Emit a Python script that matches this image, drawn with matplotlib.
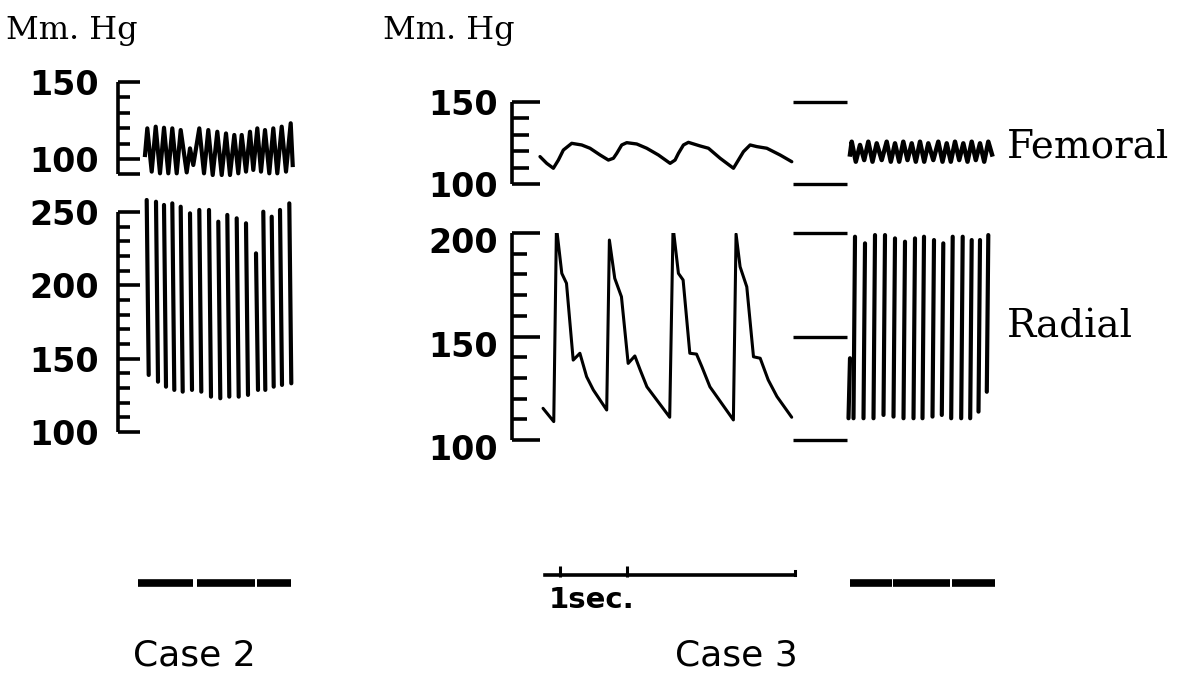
import matplotlib
matplotlib.use('Agg')
from matplotlib import pyplot as plt
from matplotlib.transforms import ScaledTranslation

W, H = 1188, 678

# Case 2 -- slow drum, time in s
fem2_t = [0.0, 0.23, 0.67, 1.07, 1.5, 1.9, 2.33, 2.73, 3.17, 3.57, 4.17, 4.5, 4.83,
          5.43, 5.9, 6.33, 6.77, 7.23, 7.67, 8.1, 8.5, 8.93, 9.33, 9.67, 10.1, 10.5,
          10.83, 11.23, 11.6, 12.0, 12.43, 12.83, 13.23, 13.67, 14.1, 14.57, 14.77]
fem2_p = [102.6, 119.9, 91.8, 121.0, 90.7, 120.3, 90.7, 119.9, 90.7, 118.8, 91.3, 106.9, 96.1,
          119.9, 90.7, 118.8, 89.6, 117.7, 89.6, 116.6, 89.6, 115.6, 90.7, 115.6, 91.8, 117.7,
          92.9, 119.9, 91.8, 118.8, 90.7, 119.9, 90.7, 121.0, 91.8, 123.2, 96.1]
rad2_t = [0.17, 1.1, 1.9, 2.73, 3.57, 4.5, 5.43, 6.4, 7.33, 8.23, 9.17, 10.1, 11.1,
          11.83, 12.67, 13.5, 14.43]
rad2_top = [258.2, 257.0, 254.8, 255.9, 253.6, 249.1, 251.4, 251.4, 243.4, 248.0, 245.7,
            242.3, 221.8, 250.2, 246.8, 251.4, 255.9]
rad2_bot = [138.9, 134.3, 130.9, 128.7, 127.5, 128.7, 127.5, 124.1, 123.0, 124.1, 124.1,
            125.3, 128.7, 128.7, 130.9, 132.1, 133.2]
marks2 = [(-0.7, 4.8), (5.2, 11.0), (11.2, 14.6)]

# Case 3 -- fast drum, time in s
fem3_t = [-0.045, 0.055, 0.154, 0.229, 0.303, 0.428, 0.577, 0.701, 0.851, 0.975, 1.05,
          1.1, 1.174, 1.249, 1.398, 1.547, 1.721, 1.896, 1.97, 2.02, 2.095, 2.169,
          2.343, 2.468, 2.642, 2.841, 2.915, 2.99, 3.09, 3.19, 3.339, 3.537, 3.711]
fem3_p = [116.7, 112.6, 109.6, 114.6, 120.7, 124.8, 123.8, 121.8, 117.7, 114.6, 115.7,
          118.7, 123.8, 125.2, 124.4, 121.8, 117.7, 112.6, 114.6, 118.7, 123.8, 125.4,
          123.2, 121.8, 115.7, 109.6, 114.6, 119.7, 123.8, 122.8, 121.8, 117.7, 113.6]
rad3_t = [0.0, 0.16, 0.2, 0.28, 0.35, 0.45, 0.55, 0.65, 0.75, 0.95,
          0.99, 1.07, 1.17, 1.27, 1.37, 1.45, 1.55, 1.89,
          1.94, 2.02, 2.09, 2.19, 2.29, 2.37, 2.49, 2.84,
          2.88, 2.94, 3.04, 3.14, 3.24, 3.36, 3.49, 3.71]
rad3_p = [115.3, 108.9, 203.0, 180.5, 175.7, 138.6, 141.9, 130.6, 124.2, 114.5,
          196.6, 178.1, 169.2, 137.0, 140.6, 133.8, 125.7, 111.0,
          203.0, 180.5, 177.3, 141.9, 141.5, 135.4, 125.7, 109.7,
          199.5, 183.7, 174.0, 140.2, 139.5, 129.0, 121.0, 111.0]
sec_ticks3 = [0.25, 1.25]
time3_end = 3.76

# Case 3 -- slow drum
fem3s_t = [0.0, 0.17, 0.58, 1.0, 1.42, 1.83, 2.25, 2.67, 3.17, 3.67, 4.08, 4.5, 4.92,
           5.33, 5.75, 6.17, 6.58, 7.0, 7.42, 7.83, 8.33, 8.83, 9.25, 9.67, 10.08,
           10.5, 10.92, 11.33, 11.75, 12.17, 12.58, 13.0, 13.42, 13.83, 14.2]
fem3s_p = [118.0, 125.8, 113.6, 123.8, 114.6, 125.8, 113.6, 124.8, 114.6, 125.8, 113.6,
           124.8, 113.6, 125.8, 114.6, 124.8, 113.6, 125.8, 113.6, 124.8, 114.6, 125.8,
           113.6, 124.8, 113.6, 125.8, 114.6, 124.8, 113.6, 125.8, 114.6, 124.8, 113.6,
           125.8, 118.0]
rad3s_t = [0.0, 0.5, 1.5, 2.5, 3.5, 4.5, 5.5, 6.5, 7.4, 8.4, 9.33, 10.27, 11.27,
           12.17, 13.0, 13.83]
rad3s_top = [139.5, 198.2, 195.0, 199.0, 199.0, 197.4, 195.8, 197.4, 198.2, 196.6,
             195.0, 198.2, 198.2, 196.6, 196.6, 199.0]
rad3s_bot = [110.5, 110.5, 110.5, 110.5, 112.1, 111.3, 110.5, 110.5, 110.5, 111.3,
             112.1, 110.5, 110.5, 110.5, 113.7, 123.3]
marks3 = [(-0.2, 4.2), (4.3, 10.0), (10.2, 14.5)]

cal_fem = [150, 100]
cal_rad = [200, 150, 100]

NUM_FONT = 'DejaVu Sans'
WORD_FONT = 'DejaVu Serif'

fig = plt.figure(figsize=(W / 100, H / 100), dpi=100)
fig.patch.set_facecolor('white')


def px_axes(x0, y0, x1, y1):
    # axes box given in pixels from the top left corner
    ax = fig.add_axes([x0 / W, 1 - y1 / H, (x1 - x0) / W, (y1 - y0) / H])
    ax.patch.set_alpha(0)
    for s in ax.spines.values():
        s.set_visible(False)
    ax.set_xticks([])
    ax.set_yticks([])
    return ax


def scale(ax, lo, hi, labelled, long_len, short_len, pad, shift=0):
    ax.set_ylim(lo, hi)
    ax.spines['left'].set_visible(True)
    ax.spines['left'].set_linewidth(2.6)
    ax.spines['left'].set_capstyle('butt')
    majors = sorted(set([lo, hi] + list(labelled)))
    ax.set_yticks(majors)
    ax.set_yticklabels([str(v) if v in labelled else '' for v in majors],
                       fontsize=24, family=NUM_FONT, fontweight='bold')
    ax.set_yticks([v for v in range(lo, hi, 10) if v not in majors], minor=True)
    ax.tick_params(axis='y', which='major', direction='in', length=long_len,
                   width=2.6, pad=pad)
    ax.tick_params(axis='y', which='minor', direction='in', length=short_len, width=2.6)
    if shift:
        off = ScaledTranslation(0, -shift / 100, fig.dpi_scale_trans)
        for lab in ax.get_yticklabels():
            lab.set_transform(lab.get_transform() + off)


def strokes(ax, ts, tops, bots, lean):
    for t, top, bot in zip(ts, tops, bots):
        ax.plot([t - lean, t], [bot, top], color='black', lw=3.0,
                solid_capstyle='round', clip_on=False)


def marker_bar(ax, marks):
    ax.set_ylim(0, 1)
    for a, b in marks:
        ax.plot([a, b], [0.5, 0.5], color='black', lw=5.5, solid_capstyle='butt')


# ---- Case 2
ax = px_axes(118, 82, 305, 174.4)
ax.set_xlim(-2.7, 16)
scale(ax, 90, 150, [100, 150], 16, 8.5, 14)
ax.plot(fem2_t, fem2_p, color='black', lw=3.0, clip_on=False)

ax = px_axes(118, 212, 305, 432)
ax.set_xlim(-2.7, 16)
scale(ax, 100, 250, [100, 150, 200, 250], 16, 8.5, 14)
strokes(ax, rad2_t, rad2_top, rad2_bot, -0.2)

ax = px_axes(118, 575, 305, 591)
ax.set_xlim(-2.7, 16)
marker_bar(ax, marks2)

# ---- Case 3, fast drum
x3 = (-0.463, 4.58)
ax = px_axes(512, 102, 850, 184)
ax.set_xlim(*x3)
scale(ax, 100, 150, [100, 150], 20, 12, 10)
ax.plot(fem3_t, fem3_p, color='black', lw=2.4, solid_joinstyle='round',
        solid_capstyle='round')
ax.hlines(cal_fem, 3.73, 4.54, color='black', lw=2.4, clip_on=False)

ax = px_axes(512, 233, 850, 440)
ax.set_xlim(*x3)
scale(ax, 100, 200, [100, 150, 200], 20, 11, 10, shift=7)
ax.plot(rad3_t, rad3_p, color='black', lw=2.2, solid_joinstyle='round',
        solid_capstyle='round')
ax.hlines(cal_rad, 3.73, 4.54, color='black', lw=2.4, clip_on=False)

ax = px_axes(512, 560, 850, 590)
ax.set_xlim(*x3)
ax.set_ylim(-1, 1)
ax.plot([0.03, time3_end], [0, 0], color='black', lw=2.6)
ax.plot([time3_end, time3_end], [0, 0.25], color='black', lw=2.2)
ax.vlines(sec_ticks3, -0.15, 0.6, color='black', lw=2.2)

# ---- Case 3, slow drum
ax = px_axes(850, 102, 1000, 184)
ax.set_xlim(0, 15)
ax.set_ylim(100, 150)
ax.plot(fem3s_t, fem3s_p, color='black', lw=3.2, clip_on=False)

ax = px_axes(850, 233, 1000, 440)
ax.set_xlim(0, 15)
ax.set_ylim(100, 200)
strokes(ax, rad3s_t, rad3s_top, rad3s_bot, 0.15)

ax = px_axes(850, 575, 1000, 591)
ax.set_xlim(0, 15)
marker_bar(ax, marks3)


# ---- lettering
def label(x, y, s, size, family, ha='left', weight='normal'):
    fig.text(x / W, 1 - y / H, s, fontsize=size, family=family, ha=ha, va='center',
             fontweight=weight)

label(6, 30, 'Mm. Hg', 23, WORD_FONT)
label(383, 30, 'Mm. Hg', 23, WORD_FONT)
label(1007, 147, 'Femoral', 28, WORD_FONT)
label(1007, 327, 'Radial', 28, WORD_FONT)
label(549, 600, '1sec.', 21, NUM_FONT, weight='bold')
label(194, 655, 'Case 2', 26, NUM_FONT, ha='center')
label(736, 655, 'Case 3', 26, NUM_FONT, ha='center')

fig.savefig('out.png', dpi=100, facecolor='white')
